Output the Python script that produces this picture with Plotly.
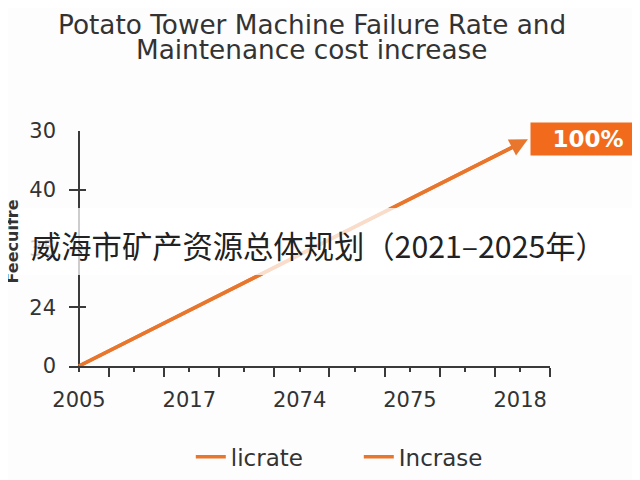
import plotly.graph_objects as go

# values
years = ["2005", "2017", "2074", "2075", "2018"]
x_pos = [0, 1, 2, 3, 4]
failure_rate = [0, 0.95, 1.9, 2.85, 3.79]
cost_increase = [0, 0.95, 1.9, 2.85, 3.79]
y_tickvals = [0, 1, 2, 3, 4]
y_ticktext = ["0", "24", "35", "40", "30"]
arrow_tip = (4.07, 3.86)
badge_text = "100%"
title_lines = ["Potato Tower Machine Failure Rate and", "Maintenance cost increase"]

orange = "#E8762C"
dark = "#3a3a3a"

# x ticks: labels at each year, short ticks at half steps
x_tickvals = []
x_ticktext = []
for i, lab in enumerate(years):
    x_tickvals.append(i)
    x_ticktext.append(lab)
    if i < len(years) - 1:
        x_tickvals.append(i + 0.5)
        x_ticktext.append("")

fig = go.Figure()
fig.add_trace(go.Scatter(x=x_pos, y=failure_rate, mode="lines", name="licrate",
                         line=dict(color=orange, width=3.5)))
fig.add_trace(go.Scatter(x=x_pos, y=cost_increase, mode="lines", name="Incrase",
                         line=dict(color=orange, width=3.5)))

# arrow head at the end of the line
fig.add_annotation(x=arrow_tip[0], y=arrow_tip[1], ax=x_pos[-1] - 0.3,
                   ay=failure_rate[-1] - 0.3 * 0.95, axref="x", ayref="y",
                   xref="x", yref="y", text="", showarrow=True,
                   arrowhead=2, arrowsize=1.2, arrowwidth=3, arrowcolor=orange)

# orange badge
fig.add_annotation(x=0.958, y=0.964, xref="paper", yref="paper",
                   xanchor="left", yanchor="middle", text="<b>" + badge_text + "</b>",
                   showarrow=False, bgcolor="#F26B1D", width=112, height=30,
                   font=dict(family="DejaVu Sans", size=23, color="white"))

# title, two centred lines
fig.add_annotation(x=0.505, y=1.451, xref="paper", yref="paper", text=title_lines[0],
                   xanchor="center", yanchor="middle", showarrow=False,
                   font=dict(family="DejaVu Sans", size=26.3, color="#333"))
fig.add_annotation(x=0.505, y=1.345, xref="paper", yref="paper", text=title_lines[1],
                   xanchor="center", yanchor="middle", showarrow=False,
                   font=dict(family="DejaVu Sans", size=26.3, color="#333"))

# faded band with overlay text
fig.add_shape(type="rect", xref="paper", yref="paper", x0=-0.2, x1=1.25,
              y0=0.387, y1=0.672, fillcolor="rgba(255,255,255,0.75)",
              line=dict(width=0), layer="above")
fig.add_annotation(x=0.518, y=0.515, xref="paper", yref="paper",
                   xanchor="center", yanchor="middle",
                   text="威海市矿产资源总体规划（2021–2025年）", showarrow=False,
                   font=dict(family="Noto Sans CJK SC", size=30.3, color="#222"))

# y axis title
fig.add_annotation(x=-0.1185, y=0.53, xref="paper", yref="paper", xanchor="center",
                   yanchor="middle", text="<b>Feecuifre</b>", textangle=-90,
                   showarrow=False,
                   font=dict(family="DejaVu Sans", size=16, color="#333"))

fig.update_layout(
    width=632, height=472,
    margin=dict(l=61, r=90, t=123, b=114),
    paper_bgcolor="#fdfdfd", plot_bgcolor="#fdfdfd",
    showlegend=True,
    legend=dict(orientation="h", x=0.6025, xanchor="center", xref="paper",
                y=0.049, yanchor="middle", yref="container",
                font=dict(family="DejaVu Sans", size=23, color="#333"),
                bgcolor="rgba(0,0,0,0)", entrywidth=123),
    xaxis=dict(range=[-0.0907, 4.27], tickvals=x_tickvals, ticktext=x_ticktext,
               ticks="outside", ticklen=4, tickwidth=1.5, tickcolor=dark,
               minor=dict(tick0=0.27, dtick=0.5, ticks="outside", ticklen=9,
                          tickwidth=1.5, tickcolor=dark),
               showline=True, linecolor=dark, linewidth=1.5,
               zeroline=True, zerolinecolor=dark, zerolinewidth=1.5,
               showgrid=False, ticklabelstandoff=10,
               tickfont=dict(family="DejaVu Sans", size=21, color="#333")),
    yaxis=dict(range=[0, 4], tickvals=y_tickvals, ticktext=y_ticktext,
               ticks="inside", ticklen=17, tickwidth=1.5, tickcolor=dark,
               showline=False, zeroline=False, showgrid=False,
               ticklabelstandoff=12,
               tickfont=dict(family="DejaVu Sans", size=21, color="#333")),
)

fig.write_html("out.html")
